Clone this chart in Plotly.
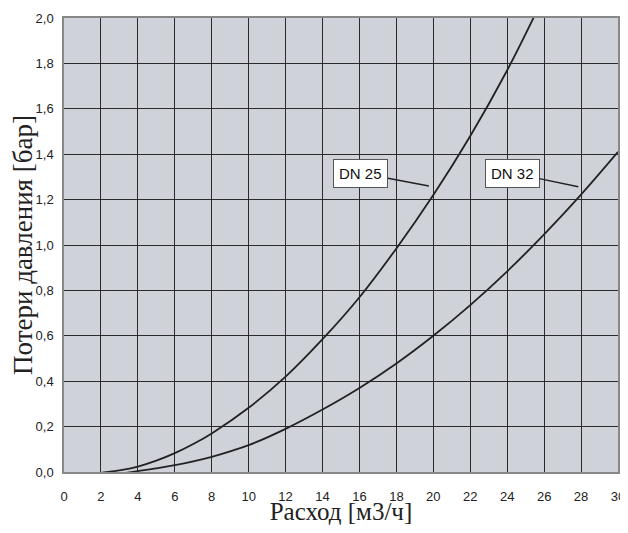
import plotly.graph_objects as go

# DN25 curve (flow m3/h, pressure loss bar)
dn25_x = [1.6, 2, 3, 4, 5, 6, 7, 8, 10, 12, 14, 16, 18, 20, 22, 24, 25.6]
dn25_y = [-0.01, -0.004, 0.007, 0.024, 0.05, 0.083, 0.123, 0.17, 0.283, 0.42, 0.585, 0.77, 0.985, 1.22, 1.48, 1.77, 2.03]

# DN32 curve
dn32_x = [2.8, 3, 4, 5, 6, 7, 8, 9, 10, 12, 14, 16, 18, 20, 22, 24, 26, 28, 30]
dn32_y = [-0.01, -0.008, 0.004, 0.016, 0.03, 0.047, 0.067, 0.091, 0.118, 0.19, 0.275, 0.37, 0.478, 0.6, 0.735, 0.884, 1.047, 1.222, 1.41]

x_ticks = list(range(0, 31, 2))
y_ticks = [round(0.2 * i, 1) for i in range(11)]
y_tick_text = [f"{v:.1f}".replace(".", ",") for v in y_ticks]

labels = ["DN 25", "DN 32"]
label_pos = [(16.08, 1.317), (24.28, 1.317)]
label_tip = [(19.76, 1.26), (27.85, 1.257)]

fig = go.Figure()
for xs, ys in [(dn25_x, dn25_y), (dn32_x, dn32_y)]:
    fig.add_trace(go.Scatter(x=xs, y=ys, mode="lines",
                             line=dict(color="#222222", width=1.8, shape="spline", smoothing=1.0),
                             showlegend=False, hoverinfo="skip"))

for txt, (lx, ly), (tx, ty) in zip(labels, label_pos, label_tip):
    fig.add_annotation(x=tx, y=ty, ax=lx, ay=ly, axref="x", ayref="y", xref="x", yref="y",
                       text=txt, showarrow=True, arrowhead=0, arrowwidth=1.5, arrowcolor="#222222",
                       bgcolor="white", bordercolor="#555555", borderwidth=1, borderpad=5,
                       font=dict(family="Liberation Sans, Arial, sans-serif", size=15, color="#111111"))

fig.update_layout(
    width=620, height=517,
    margin=dict(l=56, r=10, t=10, b=53),
    paper_bgcolor="white",
    plot_bgcolor="#cfd2d9",
    showlegend=False,
)
fig.update_xaxes(
    range=[0, 30], tickvals=x_ticks, ticktext=[str(v) for v in x_ticks],
    showgrid=True, gridcolor="#2a2a2a", gridwidth=1,
    showline=True, linecolor="#888888", linewidth=1.5, mirror=True,
    zeroline=False, ticks="", automargin=False,
    tickfont=dict(family="Liberation Sans, Arial, sans-serif", size=13, color="#222222"),
    ticklabelstandoff=12,
    title=dict(text="Расход [м3/ч]", font=dict(family="Liberation Serif, Times New Roman, serif", size=25, color="#222222"), standoff=4),
)
fig.update_yaxes(
    range=[0, 2.0], tickvals=y_ticks, ticktext=y_tick_text,
    showgrid=True, gridcolor="#2a2a2a", gridwidth=1,
    showline=True, linecolor="#888888", linewidth=1.5, mirror=True,
    zeroline=False, ticks="", automargin=False,
    tickfont=dict(family="Liberation Sans, Arial, sans-serif", size=13, color="#222222"),
    ticklabelstandoff=6,
    title=dict(text="Потери давления [бар]", font=dict(family="Liberation Serif, Times New Roman, serif", size=27, color="#222222"), standoff=3),
)

fig.write_html("out.html")
